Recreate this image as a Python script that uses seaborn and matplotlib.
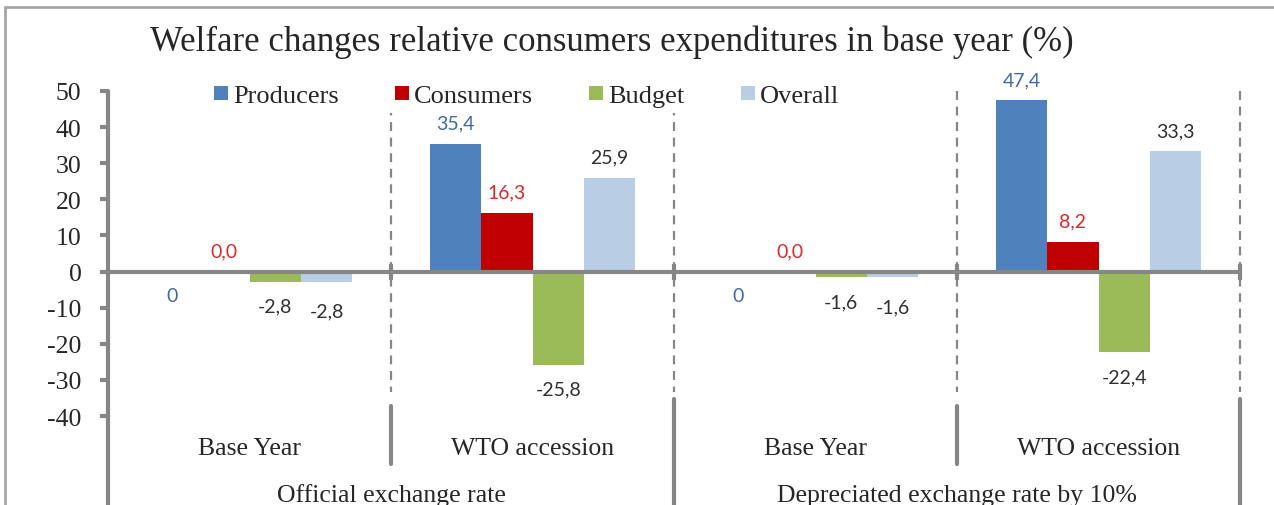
import matplotlib
matplotlib.use("Agg")
import matplotlib.pyplot as plt
import matplotlib.transforms as mtransforms
from matplotlib.lines import Line2D
import seaborn as sns
import pandas as pd

# chart data
groups = ["Official exchange rate", "Official exchange rate",
          "Depreciated exchange rate by 10%", "Depreciated exchange rate by 10%"]
scenarios = ["Base Year", "WTO accession", "Base Year", "WTO accession"]
series = ["Producers", "Consumers", "Budget", "Overall"]
producers = [0.0, 35.4, 0.0, 47.4]
consumers = [0.0, 16.3, 0.0, 8.2]
budget = [-2.8, -25.8, -1.6, -22.4]
overall = [-2.8, 25.9, -1.6, 33.3]
yticks = [-40, -30, -20, -10, 0, 10, 20, 30, 40, 50]
title = "Welfare changes relative consumers expenditures in base year (%)"

colors = ["#4F81BD", "#C00000", "#9BBB59", "#B9CDE5"]
label_colors = ["#3E6AA8", "#E02828", "#303030", "#303030"]
GRAY = "#868686"

keys = [f"{g}|{s}" for g, s in zip(groups, scenarios)]
values = {"Producers": producers, "Consumers": consumers,
          "Budget": budget, "Overall": overall}
rows = []
for s in series:
    for k, v in zip(keys, values[s]):
        rows.append({"key": k, "series": s, "value": v})
df = pd.DataFrame(rows)

sns.set_style("white")
plt.rcParams["font.family"] = ["Liberation Serif", "DejaVu Serif"]

W, H = 1274, 506
fig = plt.figure(figsize=(W / 100, H / 100), dpi=100)
ax = fig.add_axes([108 / W, 1 - 417 / H, (1240 - 108) / W, 325 / H])

sns.barplot(data=df, x="key", y="value", hue="series", order=keys,
            hue_order=series, palette=colors, width=0.725, saturation=1,
            linewidth=0, ax=ax, legend=False)

ax.set_xlim(-0.5, len(keys) - 0.5)
ax.set_ylim(yticks[0], yticks[-1])
ax.set_yticks(yticks)
ax.set_yticklabels([str(t) for t in yticks], fontsize=18.5)
ax.set_xticks([])
ax.set_xlabel("")
ax.set_ylabel("")
for sp in ["top", "right", "bottom", "left"]:
    ax.spines[sp].set_visible(False)
ax.tick_params(axis="y", length=6, width=3, color=GRAY, pad=13, left=True)

# zero axis line
ax.axhline(0, color=GRAY, lw=3, zorder=3)

trans = mtransforms.blended_transform_factory(ax.transData, ax.transAxes)
bounds = [i - 0.5 for i in range(len(keys) + 1)]
ax.plot(bounds[1:], [0] * (len(bounds) - 1), ls="none", marker="|",
        ms=11, mew=3, color=GRAY, zorder=4, clip_on=False)

# left axis line, extended through the label area
ax.add_line(Line2D([bounds[0]] * 2, [1.0, -0.28], transform=trans,
                   color=GRAY, lw=3, clip_on=False))
for i, b in enumerate(bounds[1:], start=1):
    ax.add_line(Line2D([b, b], [1.0, 0.074], transform=trans, color=GRAY,
                       lw=1.6, ls=(0, (4, 3)), clip_on=False))
    outer = (i % 2 == 0)
    y0, y1 = (0.052, -0.28) if outer else (0.031, -0.148)
    ax.add_line(Line2D([b, b], [y0, y1], transform=trans, color=GRAY,
                       lw=3, clip_on=False))

# category and group labels
for i, s in enumerate(scenarios):
    ax.text(i, -0.1, s, transform=trans, ha="center", va="center",
            fontsize=18.5)
seen = []
for g in groups:
    if g in seen:
        continue
    seen.append(g)
    idx = [j for j, gg in enumerate(groups) if gg == g]
    ax.text(sum(idx) / len(idx), -0.242, g, transform=trans, ha="center",
            va="center", fontsize=18.5)


# data labels
def fmt(v, s):
    if v == 0 and s == "Producers":
        return "0"
    return f"{v:.1f}".replace(".", ",")


for si, (s, cont) in enumerate(zip(series, ax.containers)):
    for j, rect in enumerate(cont):
        v = values[s][j]
        xc = rect.get_x() + rect.get_width() / 2
        below = v < 0 or (v == 0 and s == "Producers")
        dy = -17.5 if below else 15
        if below and s == "Overall" and v > -5:
            dy = -21
        ax.annotate(fmt(v, s), (xc, v), xytext=(0, dy),
                    textcoords="offset points", ha="center", va="center",
                    fontsize=14, color=label_colors[si], family="Lato")

# legend (opaque box hides the separators behind it)
handles = [Line2D([], [], ls="none", marker="s", ms=10.5, mew=0,
                  color=c) for c in colors]
fig.legend(handles, series, loc="center left",
           bbox_to_anchor=(207 / W, 1 - 96 / H), ncol=4, frameon=True,
           facecolor="white", edgecolor="none", framealpha=1, fancybox=False,
           fontsize=19, handlelength=0.55, handletextpad=0.2,
           columnspacing=2.1, borderpad=0.25, borderaxespad=0)

fig.text(612 / W, 1 - 42 / H, title, ha="center", va="center", fontsize=25)

# outer chart frame
fig.add_artist(Line2D([5 / W, 5 / W], [0, 1 - 8 / H],
                      transform=fig.transFigure, color="#A6A6A6", lw=2))
fig.add_artist(Line2D([5 / W, 1], [1 - 8 / H, 1 - 8 / H],
                      transform=fig.transFigure, color="#A6A6A6", lw=2))

fig.savefig("out.png", dpi=100)
